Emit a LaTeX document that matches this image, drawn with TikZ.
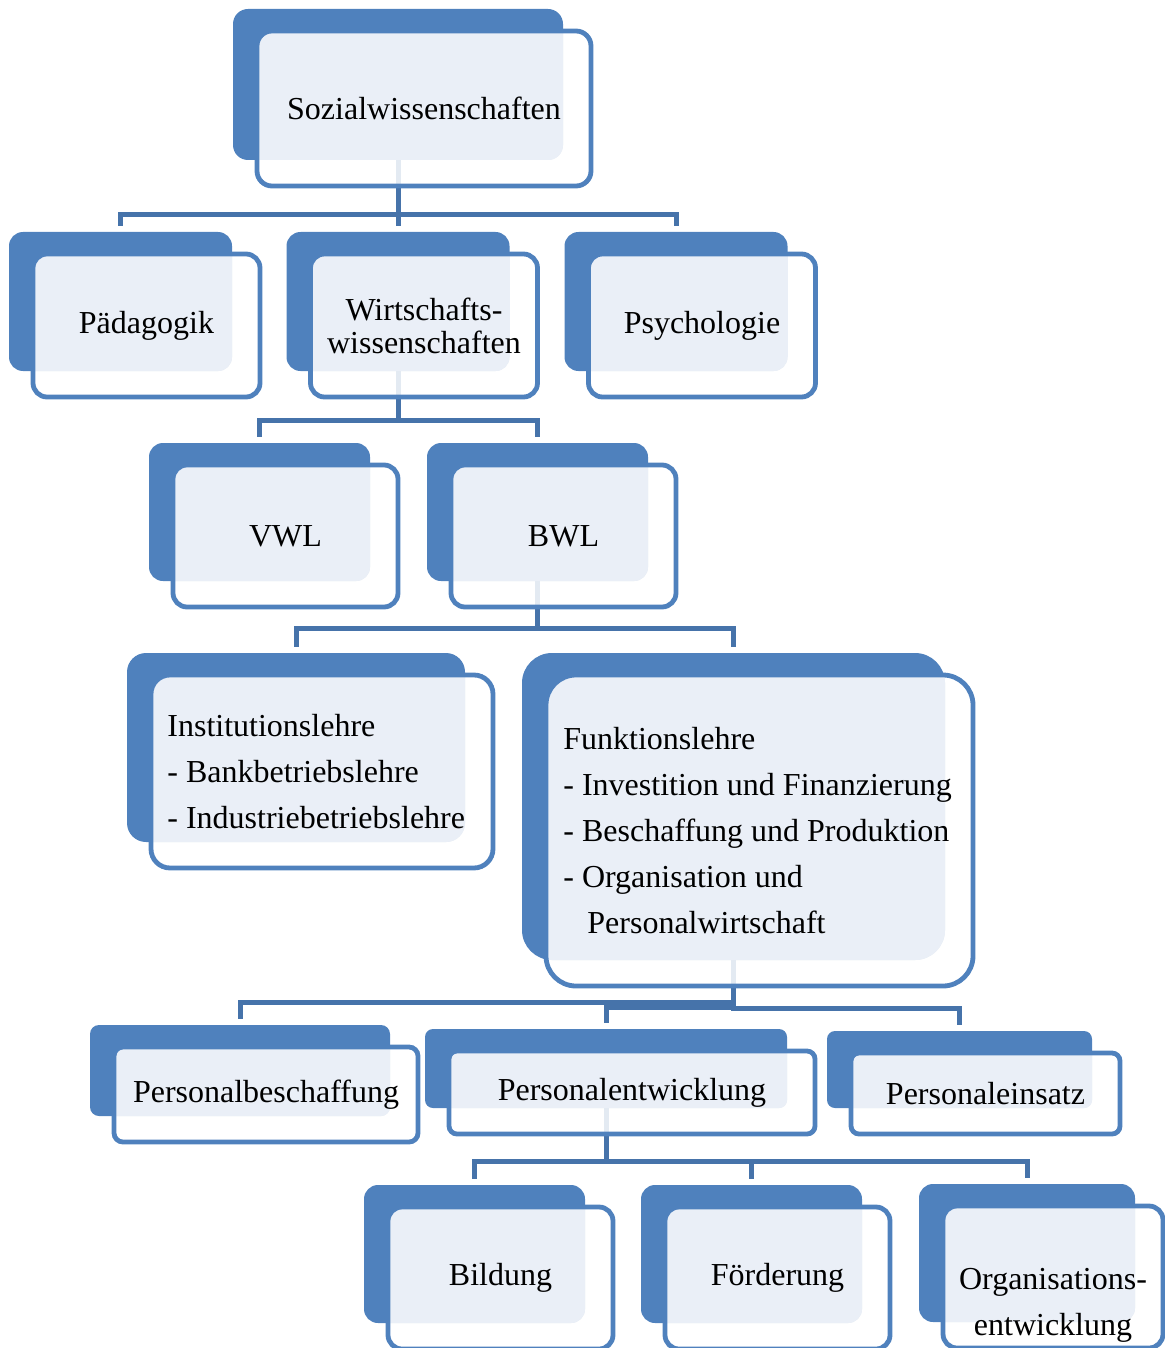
\documentclass[tikz,border=0pt]{standalone}
\usepackage{fontspec}
\setmainfont{Liberation Serif}
\usetikzlibrary{backgrounds}

\definecolor{smblue}{RGB}{79,129,189}
\definecolor{smlight}{RGB}{234,239,247}
\definecolor{smline}{RGB}{70,115,170}

\tikzset{
  backbox/.style={fill=smblue, inner sep=0pt, outer sep=0pt},
  frontbox/.style={draw=smblue, line width=2.4pt, fill=white, fill opacity=0.85,
    text opacity=1, inner sep=0pt, outer sep=0pt, align=center,
    font=\fontsize{16}{23}\selectfont},
  lightbox/.style={fill=smlight, fill opacity=1},
  link/.style={draw=smline, line width=2.5pt},
  listtext/.style={anchor=west, align=left, inner sep=0pt,
    font=\fontsize{16}{23}\selectfont}
}

% name, back centre, width, height, corner, text
\newcommand{\smbox}[6]{%
  \node[backbox, minimum width=#3, minimum height=#4, rounded corners=#5] (#1-b) at (#2) {};
  \node[frontbox, minimum width=#3+2pt, minimum height=#4+2pt, rounded corners=#5,
    path picture={\fill[lightbox, rounded corners=#5] (#1-b.north west) rectangle (#1-b.south east);}]
    (#1) at ([shift={(26,24)}]#1-b.center) {#6};}

\begin{document}
\begin{tikzpicture}[x=0.5pt,y=-0.5pt]
\useasboundingbox (0,0) rectangle (1165,1348);

\smbox{soz}{398,84.5}{165pt}{75.5pt}{7.5pt}{Sozialwissenschaften}

\smbox{paed}{120.5,301.5}{111.5pt}{69.5pt}{7pt}{Pädagogik}
\smbox{wirt}{398,301.5}{111.5pt}{69.5pt}{7pt}{Wirtschafts-\\[-6.5pt]wissenschaften}
\smbox{psych}{676,301.5}{111.5pt}{69.5pt}{7pt}{Psychologie}

\smbox{vwl}{259.5,512}{110.5pt}{69pt}{7pt}{VWL}
\smbox{bwl}{537.5,512}{110.5pt}{69pt}{7pt}{BWL}

\smbox{inst}{296,747.5}{169pt}{94.5pt}{9.5pt}{}
\node[listtext] (inst-t) at (167,772) {Institutionslehre\\- Bankbetriebslehre\\- Industriebetriebslehre};
\smbox{funk}{733.5,806.5}{211.5pt}{153.5pt}{15pt}{}
\node[listtext] (funk-t) at (563,831) {Funktionslehre\\- Investition und Finanzierung\\- Beschaffung und Produktion\\- Organisation und\\\hspace*{12pt}Personalwirtschaft};

\smbox{pbes}{240,1070.5}{150pt}{45.5pt}{4.5pt}{Personalbeschaffung}
\smbox{pent}{606,1068.5}{181pt}{39.5pt}{4pt}{Personalentwicklung}
\smbox{pein}{959.5,1069.5}{132.5pt}{38.5pt}{4pt}{Personaleinsatz}

\smbox{bild}{474.5,1254}{110.5pt}{69pt}{7pt}{Bildung}
\smbox{foerd}{751.5,1254}{110.5pt}{69pt}{7pt}{Förderung}
\smbox{orga}{1027,1253}{108pt}{69pt}{7pt}{\strut\\Organisations-\\entwicklung}

\begin{pgfonlayer}{background}
\draw[link] (soz-b.south) -- ++(0,55) -| ([yshift=3pt]paed-b.north);
\draw[link] (soz-b.south) -- ++(0,55) -| ([yshift=3pt]wirt-b.north);
\draw[link] (soz-b.south) -- ++(0,55) -| ([yshift=3pt]psych-b.north);
\draw[link] (wirt-b.south) -- ++(0,49) -| ([yshift=3pt]vwl-b.north);
\draw[link] (wirt-b.south) -- ++(0,49) -| ([yshift=3pt]bwl-b.north);
\draw[link] (bwl-b.south) -- ++(0,47) -| ([yshift=3pt]inst-b.north);
\draw[link] (bwl-b.south) -- ++(0,47) -| ([yshift=3pt]funk-b.north);
\draw[link] (funk-b.south) -- ++(0,42) -| ([yshift=3pt]pbes-b.north);
\draw[link] (funk-b.south) -- ++(0,47) -| ([yshift=3pt]pent-b.north);
\draw[link] (funk-b.south) -- ++(0,48) -| ([yshift=3pt]pein-b.north);
\draw[link] (pent-b.south) -- ++(0,53) -| ([yshift=3pt]bild-b.north);
\draw[link] (pent-b.south) -- ++(0,53) -| ([yshift=3pt]foerd-b.north);
\draw[link] (pent-b.south) -- ++(0,53) -| ([yshift=3pt]orga-b.north);
\end{pgfonlayer}
\end{tikzpicture}
\end{document}
